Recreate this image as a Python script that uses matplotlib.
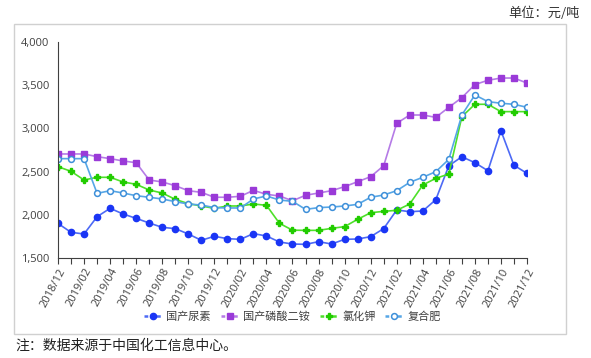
import matplotlib.pyplot as plt
from matplotlib.patches import Rectangle
import numpy as np

plt.rcParams['font.family'] = ['Noto Sans CJK SC', 'DejaVu Sans']

# months 2018/12 .. 2021/12
months = []
for y, m in [(2018, 12)] + [(yy, mm) for yy in (2019, 2020, 2021) for mm in range(1, 13)]:
    months.append(f'{y}/{m:02d}')

urea = [1900, 1797, 1778, 1978, 2075, 2009, 1959, 1905, 1855, 1840, 1778, 1705, 1751,
        1724, 1716, 1782, 1755, 1685, 1662, 1658, 1689, 1662, 1716, 1720, 1747,
        1840, 2056, 2036, 2044, 2175, 2568, 2672, 2603, 2510, 2973, 2573, 2480]
dap = [2704, 2704, 2704, 2673, 2650, 2623, 2603, 2403, 2380, 2337, 2279, 2260, 2203,
       2203, 2214, 2283, 2237, 2218, 2162, 2226, 2252, 2279, 2326, 2383, 2441,
       2568, 3059, 3155, 3155, 3128, 3244, 3356, 3507, 3557, 3583, 3583, 3525]
potash = [2557, 2503, 2403, 2434, 2434, 2380, 2353, 2287, 2252, 2179, 2129, 2102, 2075,
          2102, 2102, 2125, 2110, 1901, 1822, 1820, 1820, 1843, 1863, 1948, 2024,
          2040, 2052, 2125, 2345, 2422, 2472, 3136, 3279, 3279, 3194, 3194, 3194]
compound = [2650, 2650, 2650, 2248, 2279, 2252, 2221, 2203, 2183, 2152, 2125, 2113, 2083,
            2079, 2079, 2183, 2218, 2171, 2156, 2063, 2083, 2090, 2102, 2121, 2203,
            2229, 2279, 2376, 2434, 2499, 2642, 3155, 3387, 3310, 3291, 3279, 3244]
names = ['国产尿素', '国产磷酸二铵', '氯化钾', '复合肥']

fig = plt.figure(figsize=(5.91, 3.58), dpi=100)
ax = fig.add_axes([58/591, 1-258/358, (527-58)/591, (258-42)/358])

x = np.arange(len(months))
ax.plot(x, urea, color='#4d6af5', lw=1.2, marker='o', ms=4.5, mfc='#1a35f5', mec='#1a35f5', label=names[0])
ax.plot(x, dap, color='#b57be6', lw=1.2, marker='s', ms=4.5, mfc='#9a3ad8', mec='#9a3ad8', label=names[1])
ax.plot(x, potash, color='#4ee02a', lw=1.2, marker='P', ms=4.5, mfc='#22cc00', mec='#22cc00', label=names[2])
ax.plot(x, compound, color='#56a6e6', lw=1.2, marker='o', ms=4.2, mfc='white', mec='#3d8fd9', mew=1.1, label=names[3])

ax.set_xlim(0, 36)
ax.set_ylim(1500, 4000)
ax.set_yticks([1500, 2000, 2500, 3000, 3500, 4000])
ax.set_yticklabels(['1,500', '2,000', '2,500', '3,000', '3,500', '4,000'])
ax.set_xticks(x)
ax.set_xticklabels([m if i % 2 == 0 else '' for i, m in enumerate(months)],
                   rotation=62, ha='right', rotation_mode='anchor')
for lab in ax.get_xticklabels() + ax.get_yticklabels():
    lab.set_fontfamily(['Open Sans', 'DejaVu Sans'])
    lab.set_fontsize(8)
    lab.set_color('#404040')
ax.tick_params(axis='y', length=0, pad=6)
ax.tick_params(axis='x', length=4, color='#404040', pad=2)
for s in ['top', 'right']:
    ax.spines[s].set_visible(False)
ax.spines['left'].set_color('#404040')
ax.spines['bottom'].set_color('#404040')

leg = ax.legend(loc='center', bbox_to_anchor=(0.5, -0.272), ncol=4, frameon=False,
                fontsize=8, handlelength=1.6, columnspacing=0.9, handletextpad=0.4)
for h in leg.legend_handles:
    h.set_linestyle((0, (1.5, 1)))
    h.set_linewidth(1.8)
for t in leg.get_texts():
    t.set_color('#404040')

fig.patches.append(Rectangle((14/591, 1-334/358), 552/591, (334-24)/358,
                             transform=fig.transFigure, fill=False, ec='#d0d0d0', lw=1))
fig.text(580/591, 1-13/358, '单位：元/吨', ha='right', va='center', fontsize=9.5, color='#333333')
fig.text(15/591, 1-346/358, '注：数据来源于中国化工信息中心。', ha='left', va='center', fontsize=10, color='#222222')

fig.savefig('out.png', dpi=100)
